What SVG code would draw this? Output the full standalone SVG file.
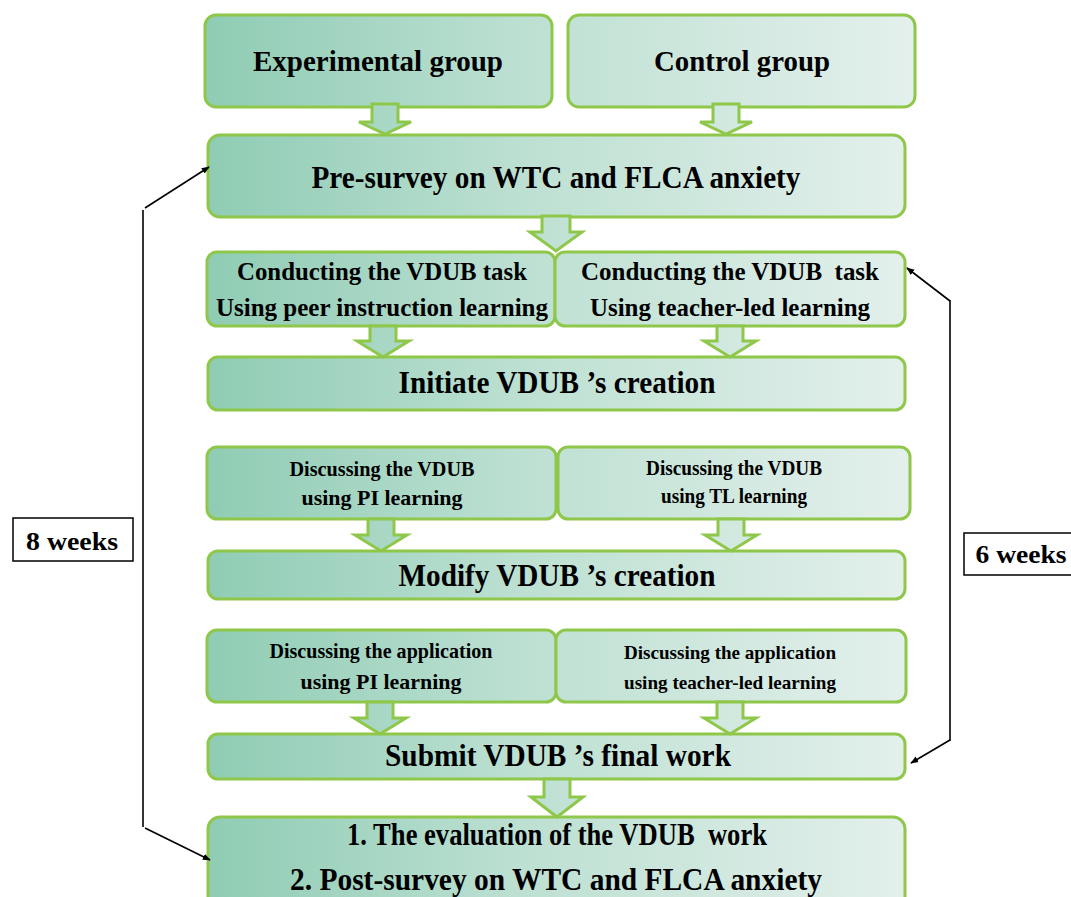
<svg xmlns="http://www.w3.org/2000/svg" width="1071" height="897" viewBox="0 0 1071 897">
<defs>
<linearGradient id="g" gradientUnits="userSpaceOnUse" x1="205" y1="0" x2="915" y2="0">
<stop offset="0" stop-color="#8fccb4"/>
<stop offset="0.45" stop-color="#bde0d2"/>
<stop offset="1" stop-color="#e4f0ec"/>
</linearGradient>
<marker id="ah" viewBox="0 0 10 10" refX="9" refY="5" markerWidth="8" markerHeight="8" orient="auto" markerUnits="userSpaceOnUse">
<path d="M0,1 L10,5 L0,9 Z" fill="#000"/>
</marker>
<style>
.box{fill:url(#g);stroke:#8ec74a;stroke-width:3}
.arr{fill:url(#g);stroke:#8ec74a;stroke-width:3;stroke-linejoin:miter}
.t{font-family:"Liberation Serif","Times New Roman",serif;font-weight:bold;fill:#000;text-anchor:middle}
.ln{fill:none;stroke:#000;stroke-width:1.6}
.wk{fill:#fff;stroke:#000;stroke-width:1.5}
</style>
</defs>
<rect width="1071" height="897" fill="#fff"/>

<g id="n-experimental"><rect class="box" x="205" y="15" width="347" height="92" rx="11"/><text class="t" x="378" y="71" font-size="30" textLength="250" lengthAdjust="spacingAndGlyphs">Experimental group</text></g>
<g id="n-control"><rect class="box" x="568" y="15" width="347" height="92" rx="11"/><text class="t" x="742" y="71" font-size="30" textLength="176" lengthAdjust="spacingAndGlyphs">Control group</text></g>
<g id="n-presurvey"><rect class="box" x="208" y="135" width="697" height="82" rx="12"/><text class="t" x="556" y="188" font-size="31" textLength="489" lengthAdjust="spacingAndGlyphs">Pre-survey on WTC and FLCA anxiety</text></g>
<g id="n-conduct-pi"><rect class="box" x="207" y="252" width="348" height="74" rx="10"/><text class="t" x="382" y="280" font-size="25" textLength="290" lengthAdjust="spacingAndGlyphs">Conducting the VDUB task</text><text class="t" x="382" y="316" font-size="25" textLength="332" lengthAdjust="spacingAndGlyphs">Using peer instruction learning</text></g>
<g id="n-conduct-tl"><rect class="box" x="555" y="252" width="350" height="74" rx="10"/><text class="t" x="730" y="280" font-size="25" textLength="298" lengthAdjust="spacingAndGlyphs">Conducting the VDUB&#160; task</text><text class="t" x="730" y="316" font-size="25" textLength="280" lengthAdjust="spacingAndGlyphs">Using teacher-led learning</text></g>
<g id="n-initiate"><rect class="box" x="208" y="357" width="697" height="53" rx="10"/><text class="t" x="557" y="393" font-size="31" textLength="317" lengthAdjust="spacingAndGlyphs">Initiate VDUB ’s creation</text></g>
<g id="n-discuss-pi"><rect class="box" x="207" y="447" width="349" height="72" rx="10"/><text class="t" x="382" y="476" font-size="21" textLength="185" lengthAdjust="spacingAndGlyphs">Discussing the VDUB</text><text class="t" x="382" y="505" font-size="21" textLength="161" lengthAdjust="spacingAndGlyphs">using PI learning</text></g>
<g id="n-discuss-tl"><rect class="box" x="558" y="447" width="352" height="72" rx="10"/><text class="t" x="734" y="475" font-size="20" textLength="176" lengthAdjust="spacingAndGlyphs">Discussing the VDUB</text><text class="t" x="734" y="503" font-size="20" textLength="146" lengthAdjust="spacingAndGlyphs">using TL learning</text></g>
<g id="n-modify"><rect class="box" x="208" y="551" width="697" height="48" rx="10"/><text class="t" x="557" y="586" font-size="31" textLength="317" lengthAdjust="spacingAndGlyphs">Modify VDUB ’s creation</text></g>
<g id="n-app-pi"><rect class="box" x="207" y="630" width="349" height="72" rx="10"/><text class="t" x="381" y="658" font-size="21" textLength="223" lengthAdjust="spacingAndGlyphs">Discussing the application</text><text class="t" x="381" y="689" font-size="21" textLength="161" lengthAdjust="spacingAndGlyphs">using PI learning</text></g>
<g id="n-app-tl"><rect class="box" x="556" y="630" width="350" height="72" rx="10"/><text class="t" x="730" y="659" font-size="19" textLength="212" lengthAdjust="spacingAndGlyphs">Discussing the application</text><text class="t" x="730" y="689" font-size="19" textLength="212" lengthAdjust="spacingAndGlyphs">using teacher-led learning</text></g>
<g id="n-submit"><rect class="box" x="208" y="734" width="697" height="45" rx="10"/><text class="t" x="558" y="766" font-size="31" textLength="346" lengthAdjust="spacingAndGlyphs">Submit VDUB ’s final work</text></g>
<g id="n-final"><rect class="box" x="208" y="817" width="697" height="95" rx="12"/><text class="t" x="557" y="845" font-size="31" textLength="420" lengthAdjust="spacingAndGlyphs">1. The evaluation of the VDUB&#160; work</text><text class="t" x="556" y="890" font-size="31" textLength="532" lengthAdjust="spacingAndGlyphs">2. Post-survey on WTC and FLCA anxiety</text></g>
<g id="n-8weeks"><rect class="wk" x="13" y="518" width="120" height="43"/><text class="t" x="72" y="550" font-size="26" textLength="92" lengthAdjust="spacingAndGlyphs">8 weeks</text></g>
<g id="n-6weeks"><rect class="wk" x="964" y="533" width="115" height="42"/><text class="t" x="1021" y="563" font-size="26" textLength="91" lengthAdjust="spacingAndGlyphs">6 weeks</text></g>

<g id="connectors">
<path class="arr" d="M372,104 H398 V122 H411 L385,134 L359,122 H372 Z"/>
<path class="arr" d="M713,104 H739 V122 H752 L726,134 L700,122 H713 Z"/>
<path class="arr" d="M542,216 H570 V232 H582 L556,251 L530,232 H542 Z"/>
<path class="arr" d="M370,326 H396 V341 H409 L383,357 L357,341 H370 Z"/>
<path class="arr" d="M717,326 H743 V341 H756 L730,357 L704,341 H717 Z"/>
<path class="arr" d="M368,519 H394 V535 H407 L381,551 L355,535 H368 Z"/>
<path class="arr" d="M718,519 H744 V535 H757 L731,551 L705,535 H718 Z"/>
<path class="arr" d="M367,702 H393 V718 H406 L380,734 L354,718 H367 Z"/>
<path class="arr" d="M717,702 H743 V718 H756 L730,734 L704,718 H717 Z"/>
<path class="arr" d="M544,779 H570 V797 H583 L557,817 L531,797 H544 Z"/>
<path class="ln" d="M143,827 V210"/>
<path class="ln" d="M145,208 L209,167" marker-end="url(#ah)"/>
<path class="ln" d="M145,828 L210,860" marker-end="url(#ah)"/>
<path class="ln" d="M950,300 V741"/>
<path class="ln" d="M950,301 L907,268" marker-end="url(#ah)"/>
<path class="ln" d="M950,740 L911,763" marker-end="url(#ah)"/>
</g>
</svg>
